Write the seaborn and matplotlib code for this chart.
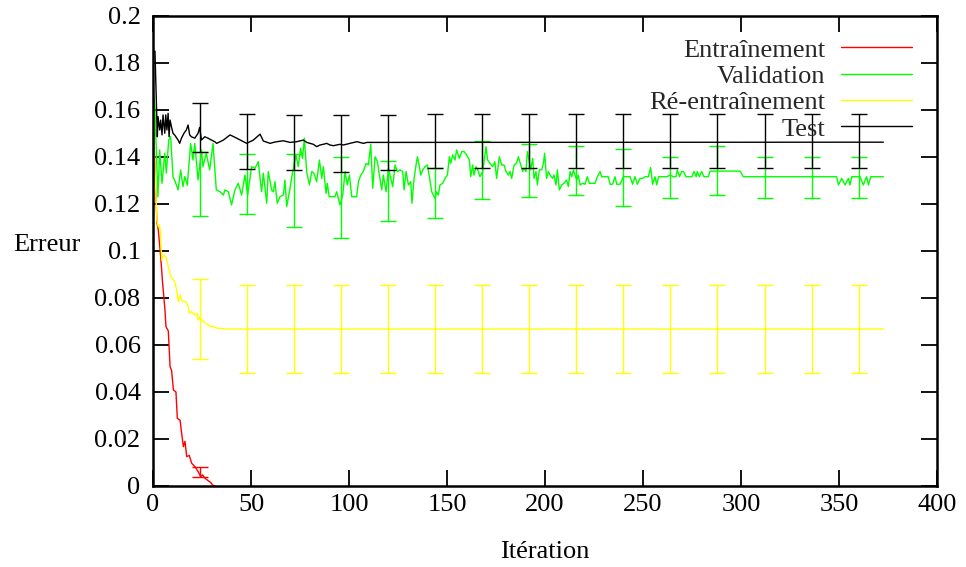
import matplotlib
matplotlib.use("Agg")
import pandas as pd
import seaborn as sns
import matplotlib.pyplot as plt

# values (iteration, error)
train_pts = [(0, 0.157), (1, 0.135), (2, 0.112), (2.7, 0.109), (3.9, 0.0976), (4.9, 0.0863),
             (6.1, 0.0749), (6.6, 0.0678), (7.8, 0.066), (8.7, 0.0508), (9.5, 0.049), (10.4, 0.0409),
             (11.7, 0.040), (12.4, 0.0288), (13.8, 0.028), (14.6, 0.0224), (15.5, 0.0167), (16.3, 0.019),
             (17.2, 0.0125), (18.5, 0.013), (19.7, 0.0097), (21.4, 0.0082), (23.1, 0.006), (24.3, 0.004),
             (25.3, 0.0047), (26.5, 0.0033), (28.2, 0.0022), (29.4, 0.0015), (30.4, 0.0004), (31.6, 0.0)]

val_pts = [(0, 0.1714), (1, 0.160), (2.5, 0.123), (3.4, 0.143), (4.6, 0.1288), (6, 0.1416), (6.8, 0.1331),
           (8, 0.1472), (9, 0.1486), (10.2, 0.1316), (11, 0.1302), (12.8, 0.126), (14.1, 0.1345),
           (15.3, 0.1274), (16.2, 0.1316), (17.5, 0.128), (19.2, 0.1458), (20.4, 0.1387), (21.3, 0.1458),
           (23, 0.1302), (24.7, 0.143), (25.5, 0.1359), (27.2, 0.1416), (28.9, 0.1345), (30.6, 0.1458),
           (32.3, 0.126), (34.2, 0.1252), (35.9, 0.1238), (36.7, 0.126), (38.4, 0.1252), (40.1, 0.1196),
           (41.8, 0.126), (43.5, 0.1288), (45.2, 0.1238), (46.9, 0.1323), (48.3, 0.1238), (50.3, 0.1359),
           (52, 0.1352), (53.7, 0.138), (55.4, 0.1252), (56.3, 0.1331), (58, 0.1203), (58.8, 0.1338),
           (60.5, 0.126), (61.4, 0.1252), (62.2, 0.1295), (63.4, 0.1203), (64.8, 0.1231), (66.5, 0.1238),
           (67.3, 0.1302), (68.2, 0.1189), (69.6, 0.1252), (70.7, 0.1309), (71.9, 0.1366), (72.9, 0.1409),
           (74.1, 0.1359), (75.3, 0.1437), (76.3, 0.1394), (77.2, 0.148), (78.4, 0.1338), (79.8, 0.1281),
           (81, 0.1338), (82.1, 0.1331), (83.5, 0.1295), (84.9, 0.1387), (86.1, 0.1309), (86.9, 0.1359),
           (88.3, 0.1245), (88.9, 0.1288), (89.9, 0.1231), (91.1, 0.1231), (92.8, 0.1231), (93.7, 0.1252),
           (95.4, 0.1196), (96.8, 0.1238), (98, 0.1338), (99.1, 0.1281), (100.2, 0.1323), (101.4, 0.1231),
           (102.5, 0.1231), (103.9, 0.1231), (104.8, 0.1295), (106, 0.1323), (107.3, 0.1338), (108.7, 0.1373),
           (109.9, 0.1366), (111.1, 0.1454), (112.1, 0.1267), (113.3, 0.1401), (114.5, 0.138), (115.5, 0.1323),
           (116.7, 0.126), (117.5, 0.1323), (118.9, 0.1252), (120.1, 0.1352), (120.9, 0.1323), (122.3, 0.1274),
           (123.5, 0.1366), (124.7, 0.1338), (126, 0.1345), (127.4, 0.1338), (128.1, 0.126), (129.1, 0.1338),
           (130.3, 0.1281), (131.5, 0.1295), (132.1, 0.1203), (133.2, 0.1309), (134.2, 0.1366), (134.9, 0.1401),
           (135.9, 0.1359), (136.6, 0.1323), (137.6, 0.1345), (138.8, 0.1359), (140, 0.1366), (141, 0.1316),
           (142.2, 0.1252), (143, 0.1238), (143.9, 0.1224), (144.7, 0.1252), (145.6, 0.1238), (146.4, 0.1281),
           (147.8, 0.1288), (149, 0.1309), (150.2, 0.1323), (151.2, 0.1401), (151.9, 0.1373), (152.9, 0.1409),
           (154.1, 0.1387), (154.9, 0.143), (156.3, 0.1394), (157.5, 0.1423), (158.7, 0.1423), (160, 0.1409),
           (161.4, 0.1387), (162.1, 0.1316), (163.1, 0.1366), (163.8, 0.1323), (164.8, 0.1359), (166, 0.1338),
           (166.8, 0.1316), (168.2, 0.1338), (168.9, 0.138), (169.9, 0.1444), (170.7, 0.1387), (171.9, 0.1373),
           (173.3, 0.1359), (174.4, 0.138), (175.3, 0.1309), (176.7, 0.1401), (177.9, 0.1366), (179.1, 0.1366),
           (180.1, 0.1338), (181.3, 0.1323), (182.1, 0.1338), (183, 0.1309), (184.2, 0.1366), (185.5, 0.1373),
           (186.4, 0.1401), (187.6, 0.1366), (188.6, 0.1338), (189.3, 0.1352), (190.3, 0.1338), (191, 0.1423),
           (192, 0.138), (192.7, 0.1345), (193.7, 0.1394), (194.4, 0.1309), (195.4, 0.1338), (196.1, 0.1281),
           (197.1, 0.1345), (198.3, 0.1345), (199.2, 0.1373), (199.8, 0.1416), (200.8, 0.1309), (201.7, 0.1338),
           (202.6, 0.1323), (203.9, 0.1309), (204.6, 0.1323), (205.6, 0.1281), (206.3, 0.1345), (207.3, 0.126),
           (208.5, 0.1281), (209.7, 0.1288), (211, 0.1302), (211.9, 0.1274), (212.8, 0.1338), (213.6, 0.1316),
           (214.5, 0.1345), (215.3, 0.1323), (216.2, 0.1302), (217, 0.1323), (217.9, 0.1281), (219.2, 0.1288),
           (220.4, 0.1284), (221.6, 0.1316), (222.6, 0.1288), (223.8, 0.1288), (225.5, 0.1288), (226.7, 0.1316),
           (228.1, 0.1338), (228.9, 0.1316), (230.6, 0.1316), (232.3, 0.1316), (233.2, 0.1284), (234.5, 0.1284),
           (235.7, 0.1316), (236.6, 0.1284), (238.3, 0.1284), (240, 0.1316), (241.7, 0.1316), (243.4, 0.1316),
           (244.7, 0.1284), (245.9, 0.1316), (247.1, 0.1284), (248.5, 0.1309), (249.8, 0.1309), (251, 0.1316),
           (252.7, 0.1316), (253.9, 0.1355), (254.9, 0.1284), (256.1, 0.1316), (257, 0.1281), (257.9, 0.1316),
           (262.1, 0.1316), (263.8, 0.1323), (265.5, 0.1316), (266.8, 0.1316), (267.5, 0.1345), (268.6, 0.1316),
           (269.7, 0.1338), (270.6, 0.1338), (272, 0.1316), (274.9, 0.1316), (276.1, 0.1338), (277.1, 0.1316),
           (277.7, 0.1338), (278.7, 0.1316), (279.9, 0.1338), (281.1, 0.1316), (283.3, 0.1316), (284.2, 0.134),
           (299.5, 0.134), (301.2, 0.1316), (348.8, 0.1316), (349.7, 0.1281), (351.4, 0.1309), (353.1, 0.1281),
           (354.8, 0.1309), (355.6, 0.1281), (356.5, 0.1316), (360.7, 0.1316), (362.4, 0.1281), (364.1, 0.1316),
           (365, 0.1281), (366.2, 0.1316), (372.6, 0.1316)]

retrain_pts = [(0, 0.157), (1, 0.135), (2, 0.113), (2.7, 0.1103), (3.2, 0.1111), (3.9, 0.1075), (4.4, 0.0962),
               (5.3, 0.0983), (6.6, 0.0976), (7.8, 0.0933), (9, 0.0891), (10.4, 0.0877), (11.2, 0.0863),
               (12.1, 0.0834), (12.9, 0.0784), (13.8, 0.0813), (14.6, 0.0791), (15.5, 0.0784), (16.8, 0.0784),
               (18, 0.0763), (18.5, 0.0735), (19.7, 0.0742), (20.9, 0.0728), (22.3, 0.0735), (23.1, 0.0706),
               (24, 0.072), (24.8, 0.0709), (26, 0.0699), (27, 0.0692), (28.2, 0.0685), (29.4, 0.0678),
               (30.7, 0.068), (31.6, 0.0674), (33.3, 0.0671), (35, 0.0671), (36.7, 0.0668), (372.6, 0.0668)]

test_pts = [(0, 0.185), (1, 0.185), (2.2, 0.1486), (2.55, 0.1572), (3.4, 0.1515), (3.9, 0.1557), (4.6, 0.1494),
            (5.1, 0.1579), (6, 0.1501), (6.5, 0.1579), (7.1, 0.1515), (7.7, 0.1586), (8.2, 0.1486), (8.7, 0.1557),
            (9.4, 0.1529), (10.2, 0.1501), (11, 0.1494), (12.8, 0.1472), (13.6, 0.1458), (14.5, 0.148),
            (15.8, 0.1501), (17, 0.1515), (17.9, 0.1536), (18.7, 0.1494), (19.6, 0.1486), (21.3, 0.148),
            (23, 0.1501), (23.8, 0.1526), (24.7, 0.1472), (26.4, 0.1486), (28.1, 0.148), (29.8, 0.1472),
            (31.5, 0.1465), (32.5, 0.1458), (35.9, 0.1472), (39.3, 0.1494), (42.7, 0.148), (47.8, 0.1458),
            (51.2, 0.1472), (54.6, 0.1497), (56.3, 0.1468), (59.7, 0.1458), (61.4, 0.1462), (63.1, 0.1465),
            (66.5, 0.1469), (69.9, 0.1462), (73.3, 0.1465), (76.7, 0.1472), (78.4, 0.1462), (81.8, 0.1454),
            (83.5, 0.1444), (85.2, 0.1451), (86.9, 0.1454), (88.6, 0.1458), (90.3, 0.1451), (92, 0.1448),
            (93.7, 0.1451), (95.4, 0.1454), (97.1, 0.1451), (100.5, 0.1458), (104, 0.1465), (107.4, 0.1458),
            (109.1, 0.1462), (372.6, 0.1463)]

# error bars (iteration, mean, half-width)
train_err = [(24, 0.0061, 0.0021)]
val_err = [(24, 0.1285, 0.0135), (48, 0.1286, 0.0128), (72, 0.1257, 0.0155), (96, 0.1228, 0.0171),
           (120, 0.1256, 0.0128), (144, 0.1248, 0.0107), (168, 0.1343, 0.0123), (192, 0.1342, 0.0114),
           (216, 0.1343, 0.0104), (240, 0.1314, 0.0122), (264, 0.1313, 0.0087), (288, 0.1343, 0.0104),
           (312, 0.1313, 0.0087), (336, 0.1313, 0.0087), (360, 0.1313, 0.0087)]
retrain_err = [(24, 0.071, 0.017), (48, 0.0669, 0.0187), (72, 0.0669, 0.0187), (96, 0.0669, 0.0187),
               (120, 0.0669, 0.0187), (144, 0.0669, 0.0187), (168, 0.0669, 0.0187), (192, 0.0669, 0.0187),
               (216, 0.0669, 0.0187), (240, 0.0669, 0.0187), (264, 0.0669, 0.0187), (288, 0.0669, 0.0187),
               (312, 0.0669, 0.0187), (336, 0.0669, 0.0187), (360, 0.0669, 0.0187)]
test_err = [(24, 0.1526, 0.0105), (48, 0.1467, 0.0118), (72, 0.146, 0.0117), (96, 0.1457, 0.0122),
            (120, 0.146, 0.0117), (144, 0.1468, 0.0116), (168, 0.1468, 0.0116), (192, 0.1468, 0.0116),
            (216, 0.1468, 0.0116), (240, 0.1468, 0.0116), (264, 0.1468, 0.0116), (288, 0.1468, 0.0116),
            (312, 0.1468, 0.0116), (336, 0.1468, 0.0116), (360, 0.1468, 0.0116)]

labels = ["Entraînement", "Validation", "Ré-entraînement", "Test"]
colors = ["#ff0000", "#00ff00", "#ffff00", "#000000"]

xticks = [0, 50, 100, 150, 200, 250, 300, 350, 400]
yticks = [0, 0.02, 0.04, 0.06, 0.08, 0.1, 0.12, 0.14, 0.16, 0.18, 0.2]
ytick_labels = ["0", "0.02", "0.04", "0.06", "0.08", "0.1", "0.12", "0.14", "0.16", "0.18", "0.2"]

sns.set_theme(style="ticks")
plt.rcParams['font.family'] = ['Liberation Serif', 'DejaVu Serif']

fig, ax = plt.subplots(figsize=(9.66, 5.67), dpi=100)
fig.subplots_adjust(left=0.1584, right=0.970, bottom=0.1429, top=0.9718)

for label, pts, errs, color in zip(labels, [train_pts, val_pts, retrain_pts, test_pts],
                                   [train_err, val_err, retrain_err, test_err], colors):
    df = pd.DataFrame(pts, columns=["iter", "err"])
    sns.lineplot(data=df, x="iter", y="err", color=color, lw=1.0, label=label,
                 sort=False, estimator=None, ax=ax)
    edf = pd.DataFrame(errs, columns=["iter", "mean", "half"])
    ax.errorbar(edf["iter"], edf["mean"], yerr=edf["half"], fmt="none", ecolor=color,
                elinewidth=1.0, capsize=5.8, capthick=1.0)

ax.set_xlim(0, 400)
ax.set_ylim(0, 0.2)
ax.set_xticks(xticks)
ax.set_xticklabels([str(t) for t in xticks])
ax.set_yticks(yticks)
ax.set_yticklabels(ytick_labels)
ax.tick_params(direction="in", length=11.5, width=1.3, top=True, right=True,
               labelsize=19, colors="black")
ax.tick_params(axis="y", pad=9)
ax.tick_params(axis="x", pad=6)
for sp in ax.spines.values():
    sp.set_linewidth(1.8)
    sp.set_color("black")

ax.set_xlabel("Itération", fontsize=19, color="black", va="center")
ax.set_ylabel("Erreur", fontsize=19, rotation=0, color="black", ha="center", va="center")
ax.xaxis.set_label_coords(0.5, -0.14)
ax.yaxis.set_label_coords(-0.135, 0.513)

ax.legend(loc="upper right", bbox_to_anchor=(0.968, 0.953), frameon=False, markerfirst=False,
          fontsize=19, handlelength=2.7, handletextpad=0.6, labelspacing=0.11,
          borderpad=0, borderaxespad=0)

fig.savefig("out.png", dpi=100)
